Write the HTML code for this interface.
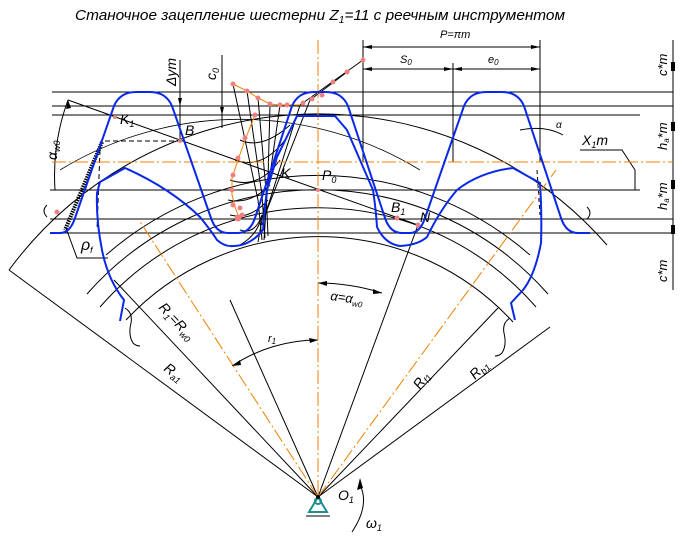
<!DOCTYPE html>
<html><head><meta charset="utf-8"><style>
html,body{margin:0;padding:0;background:#fff}
svg{display:block}
text{font-family:"Liberation Sans",sans-serif;font-style:italic;fill:#000}
</style></head><body>
<svg width="685" height="536" viewBox="0 0 685 536" xmlns="http://www.w3.org/2000/svg">
<text x="75" y="20" font-size="15" textLength="490" lengthAdjust="spacingAndGlyphs">Станочное зацепление шестерни Z<tspan font-size="10" dy="3">1</tspan><tspan dy="-3">=11 с реечным инструментом</tspan></text>

<g stroke="#000" stroke-width="1" fill="none">
<line x1="52" y1="92" x2="673" y2="92"/>
<line x1="52" y1="106" x2="673" y2="106"/>
<line x1="52" y1="115" x2="640" y2="115"/>
<line x1="50" y1="190" x2="640" y2="190"/>
<line x1="50" y1="219" x2="673" y2="219"/>
<line x1="50" y1="233" x2="673" y2="233"/>
<line x1="673" y1="40" x2="673" y2="290"/>
<line x1="363" y1="40" x2="363" y2="162"/>
<line x1="453" y1="63" x2="453" y2="162"/>
<line x1="540" y1="40" x2="540" y2="162"/>
<line x1="363" y1="47" x2="540" y2="47"/>
<line x1="363" y1="69" x2="540" y2="69"/>
<line x1="180" y1="60" x2="180" y2="140"/>
<line x1="222" y1="55" x2="222" y2="128"/>
<path d="M9,270 A384,384 0 0 1 607,245"/>
<path d="M87,294 A307,307 0 0 1 548,294"/>
<path d="M100,307 A289,289 0 0 1 536,307"/>
<path d="M126,320 A264,264 0 0 1 513,322"/>
<path d="M106,255 A322,322 0 0 1 530,255"/>
<path d="M60,170 A345,345 0 0 1 420,170" stroke-width="0.8"/>
<line x1="68" y1="100" x2="418" y2="225"/>
<line x1="318" y1="497" x2="9" y2="270"/>
<line x1="318" y1="497" x2="114" y2="280"/>
<line x1="318" y1="497" x2="230" y2="300"/>
<line x1="318" y1="497" x2="418" y2="225"/>
<line x1="318" y1="497" x2="498" y2="308"/>
<line x1="318" y1="497" x2="550" y2="327"/>
<path d="M232,366 A155,155 0 0 1 318,340"/>
<path d="M318,283 A214,214 0 0 1 382,293"/>
<path d="M68,100 A220,220 0 0 0 55,190"/>
<path d="M520,130 Q545,125 563,135"/>
<line x1="105" y1="141" x2="180" y2="141" stroke-dasharray="5,3"/>
<line x1="100" y1="150" x2="97" y2="230" stroke-dasharray="5,3"/>
<line x1="537" y1="170" x2="540" y2="215" stroke-dasharray="4,3"/>
<polyline points="66,228 77,258 108,258"/>
<polyline points="580,150 622,150 635,170 635,190"/>
<path d="M125,308 q8,5 6,15 q-3,12 2,20 q3,3 7,3"/>
<path d="M510,318 q-8,5 -6,15 q3,12 -2,20 q-3,3 -7,3"/>
<path d="M47,205 q-6,6 0,12"/>
<path d="M587,207 q6,6 0,12"/>
<path d="M233,84 L258,200 L262,240"/>
<path d="M247,91 L262,195 L265,238"/>
<path d="M258,98 L266,190 L268,236"/>
<path d="M270,104 L268,180 L264,240"/>
<path d="M280,105 L270,175 L258,242"/>
<path d="M240,140 Q262,150 290,125"/>
<path d="M235,160 Q262,170 285,140"/>
<path d="M230,180 Q258,190 280,160"/>
<path d="M228,200 Q250,205 270,185"/>
<path d="M230,215 Q250,220 268,200"/>
<path d="M240,230 Q255,235 262,215"/>
<path d="M262,225 L300,105 L363,60"/>
<path d="M265,215 L310,100 L347,72"/>
<path d="M240,245 Q258,235 262,215"/>
</g>
<line x1="102" y1="142" x2="65" y2="230" stroke="#000" stroke-width="4" stroke-dasharray="1.5,1"/>

<g stroke="#f08000" stroke-width="1" fill="none">
<line x1="52" y1="162" x2="673" y2="162" stroke-dasharray="14,3,2,3"/>
<line x1="318" y1="40" x2="318" y2="497" stroke-dasharray="14,3,2,3"/>
<line x1="318" y1="497" x2="139" y2="220" stroke-dasharray="14,3,2,3"/>
<line x1="318" y1="497" x2="556" y2="170" stroke-dasharray="14,3,2,3"/>
<polyline points="233,84 247,91 258,98 270,104 280,105 287,105 300,105"/>
<path d="M255,115 L245,140 L238,160 L232,178 L232,195 L236,210 L240,220"/>
</g>

<g fill="#f08080">
<circle cx="233" cy="84" r="2.5"/><circle cx="247" cy="91" r="2.5"/><circle cx="258" cy="98" r="2.5"/>
<circle cx="270" cy="104" r="2.5"/><circle cx="280" cy="105" r="2.5"/><circle cx="287" cy="105" r="2.5"/>
<circle cx="303" cy="103" r="2.5"/><circle cx="312" cy="99" r="2.5"/><circle cx="322" cy="95" r="2.5"/>
<circle cx="333" cy="82" r="2.5"/><circle cx="347" cy="72" r="2.5"/><circle cx="363" cy="60" r="2.5"/>
<circle cx="255" cy="115" r="2.5"/><circle cx="245" cy="138" r="2.5"/><circle cx="238" cy="158" r="2.5"/>
<circle cx="233" cy="175" r="2.5"/><circle cx="232" cy="190" r="2.5"/><circle cx="233" cy="205" r="2.5"/>
<circle cx="240" cy="208" r="2.5"/><circle cx="238" cy="218" r="3.5"/><circle cx="242" cy="215" r="2.5"/>
<circle cx="57" cy="212" r="2.5"/><circle cx="397" cy="218" r="2.5"/><circle cx="418" cy="225" r="2.5"/>
<circle cx="318" cy="190" r="2"/><circle cx="115" cy="117" r="2"/><circle cx="180" cy="141" r="2"/>
</g>

<path fill="none" stroke="#0a28e8" stroke-width="2" d="M50,233 L60,233 Q70,233 75,218 L114,106 Q120,92 136,92 L150,92 Q166,92 172,106 L211,218 Q216,233 228,233 L238,233 Q250,233 255,218 L292,106 Q298,92 314,92 L326,92 Q342,92 348,106 L385,218 Q390,233 402,233 L410,233 Q420,233 425,218 L464,106 Q470,92 486,92 L502,92 Q518,92 524,106 L561,218 Q566,233 578,233 L590,233"/>
<path fill="none" stroke="#0a28e8" stroke-width="2" d="M120,321 L124,300 Q108,280 102,250 Q96,220 97,193 L100,182 L125,168 Q170,188 200,217 Q212,232 217,240 Q225,247 233,246 Q250,246 263,230 Q265,205 267,190 L277,157 L297,116 L335,116 L347,130 L373,190 Q376,210 377,227 Q385,244 400,246 Q418,245 427,237 Q440,210 457,190 Q480,172 513,168 L540,183 Q542,215 541,243 Q535,275 523,290 L511,303 L515,320"/>

<g fill="#000">
<polygon points="363,47 372,45 372,49"/><polygon points="540,47 531,45 531,49"/>
<polygon points="363,69 372,67 372,71"/><polygon points="453,69 444,67 444,71"/>
<polygon points="453,69 462,67 462,71"/><polygon points="540,69 531,67 531,71"/>
<polygon points="180,106 178,98 182,98"/><polygon points="222,115 220,107 224,107"/>
<polygon points="318,340 309,338 310,343"/><polygon points="232,366 240,360 241,365"/>
<polygon points="318,283 327,281 327,286"/><polygon points="382,293 373,289 373,294"/>
<polygon points="68,100 66,109 71,108"/>
<rect x="671" y="62" width="4" height="9"/><rect x="671" y="122" width="4" height="9"/>
<rect x="671" y="180" width="4" height="9"/><rect x="671" y="225" width="4" height="9"/>
</g>

<g stroke="#1a9090" stroke-width="2" fill="none">
<polygon points="318,497 309,512 327,512"/>
<circle cx="318" cy="501" r="3"/>
</g>
<line x1="306" y1="516" x2="330" y2="516" stroke="#000" stroke-width="1"/>
<circle cx="318" cy="497" r="2" fill="#000"/>
<path d="M360,485 Q370,505 352,532" stroke="#000" fill="none"/>
<polygon points="360,478 357,490 363,488" fill="#000"/>

<g font-size="14">
<text x="440" y="38" font-size="11">P=πm</text>
<text x="400" y="63" font-size="11">S<tspan font-size="8" dy="2">0</tspan></text>
<text x="488" y="63" font-size="11">e<tspan font-size="8" dy="2">0</tspan></text>
<text x="120" y="124">K<tspan font-size="9" dy="3">1</tspan></text>
<text x="185" y="135">B</text>
<text x="281" y="178">K</text>
<text x="322" y="180">P<tspan font-size="9" dy="3">0</tspan></text>
<text x="391" y="212">B<tspan font-size="9" dy="3">1</tspan></text>
<text x="420" y="222">N</text>
<text x="81" y="250" font-size="16">ρ<tspan font-size="9" dy="3">f</tspan></text>
<text x="582" y="145">X<tspan font-size="9" dy="3">1</tspan><tspan dy="-3">m</tspan></text>
<text x="556" y="128" font-size="10">α</text>
<text x="338" y="500">O<tspan font-size="9" dy="3">1</tspan></text>
<text x="366" y="528">ω<tspan font-size="9" dy="3">1</tspan></text>
<text x="268" y="342" font-size="11">r<tspan font-size="8" dy="2">1</tspan></text>
<text x="330" y="300" transform="rotate(8 330 300)" font-size="13">α=α<tspan font-size="8" dy="3">w0</tspan></text>
<text transform="translate(158,308) rotate(47)">R<tspan font-size="9" dy="3">1</tspan><tspan dy="-3">=R</tspan><tspan font-size="9" dy="3">w0</tspan></text>
<text transform="translate(163,370) rotate(36)">R<tspan font-size="9" dy="3">a1</tspan></text>
<text transform="translate(420,390) rotate(-55)">R<tspan font-size="9" dy="3">f1</tspan></text>
<text transform="translate(475,380) rotate(-45)">R<tspan font-size="9" dy="3">b1</tspan></text>
<text transform="translate(176,86) rotate(-90)">Δym</text>
<text transform="translate(216,80) rotate(-90)">c<tspan font-size="9" dy="3">0</tspan></text>
<text transform="translate(57,160) rotate(-90)">α<tspan font-size="9" dy="3">w0</tspan></text>
<text transform="translate(667,76) rotate(-90)" font-size="13">c*m</text>
<text transform="translate(667,150) rotate(-90)" font-size="13">h<tspan font-size="8" dy="2">a</tspan><tspan dy="-2">*m</tspan></text>
<text transform="translate(667,210) rotate(-90)" font-size="13">h<tspan font-size="8" dy="2">a</tspan><tspan dy="-2">*m</tspan></text>
<text transform="translate(667,282) rotate(-90)" font-size="13">c*m</text>
</g>
</svg>
</body></html>
